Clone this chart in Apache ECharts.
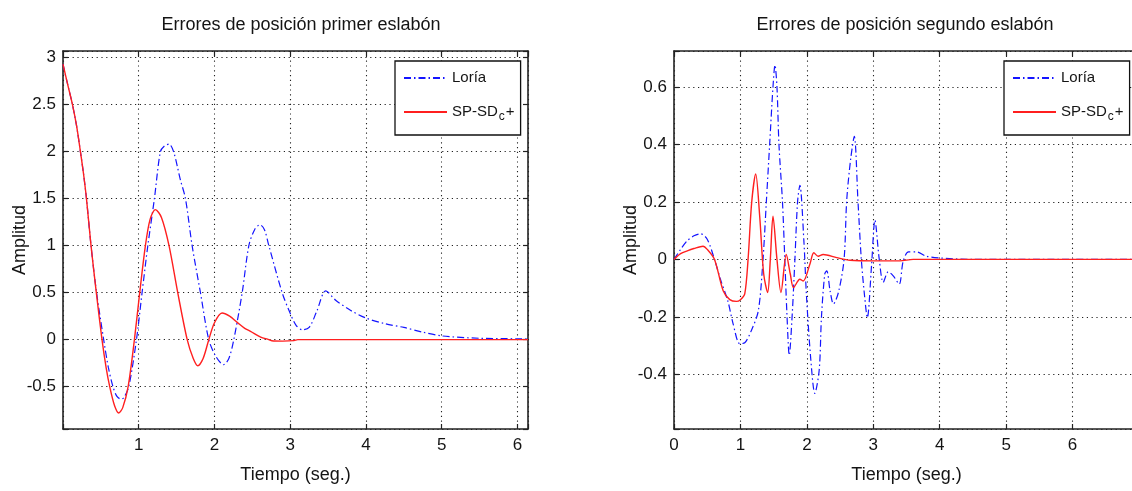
<!DOCTYPE html>
<html><head><meta charset="utf-8">
<script src="https://cdn.jsdelivr.net/npm/echarts@6/dist/echarts.min.js"></script>
<style>html,body{margin:0;padding:0;background:#fff}#c{width:1132px;height:491px}</style>
</head><body><div id="c"></div>
<script>
// ---------- text ----------
const seriesNames = ['Loría', 'SP-SD_c+'];
const titles = ['Errores de posición primer eslabón', 'Errores de posición segundo eslabón'];
const xName = 'Tiempo (seg.)';
const yName = 'Amplitud';

// ---------- axis ranges / ticks ----------
const xRange1 = [0, 6.14], xStep1 = 1;
const yRange1 = [-0.95, 3.07], yStep1 = 0.5;
const xRange2 = [0, 7], xStep2 = 1;
const yRange2 = [-0.59, 0.725], yStep2 = 0.2;

// ---------- data: first link ----------
const t1Loria = [0, 0.06, 0.125, 0.18, 0.23, 0.27, 0.31, 0.37, 0.44, 0.537, 0.60, 0.66, 0.71, 0.76, 0.80, 0.868, 0.97, 1.044, 1.12, 1.207, 1.286, 1.34, 1.40, 1.46, 1.55, 1.617, 1.705, 1.815, 1.925, 2.02, 2.12, 2.19, 2.255, 2.366, 2.454, 2.53, 2.60, 2.66, 2.718, 2.894, 3.0, 3.08, 3.16, 3.25, 3.35, 3.47, 3.6, 3.8, 4.0, 4.25, 4.5, 4.75, 5.0, 5.5, 6.0, 6.14];
const v1Loria = [2.93, 2.72, 2.5, 2.27, 2.0, 1.77, 1.5, 1.0, 0.52, 0.0, -0.3, -0.5, -0.6, -0.63, -0.62, -0.5, 0.0, 0.5, 1.0, 1.5, 2.0, 2.06, 2.08, 2.0, 1.70, 1.5, 1.0, 0.5, 0.0, -0.18, -0.266, -0.2, 0.0, 0.5, 1.0, 1.17, 1.223, 1.17, 1.0, 0.5, 0.28, 0.15, 0.106, 0.13, 0.3, 0.52, 0.42, 0.31, 0.23, 0.17, 0.13, 0.08, 0.04, 0.015, 0.01, 0.01];
const t1SPSD = [0, 0.06, 0.125, 0.18, 0.23, 0.27, 0.31, 0.37, 0.44, 0.515, 0.57, 0.617, 0.68, 0.736, 0.79, 0.86, 0.943, 1.013, 1.088, 1.15, 1.22, 1.30, 1.40, 1.515, 1.64, 1.72, 1.78, 1.85, 1.925, 2.0, 2.10, 2.20, 2.30, 2.40, 2.476, 2.61, 2.70, 2.78, 2.9, 3.05, 3.1, 3.5, 4, 5, 6.14];
const v1SPSD = [2.93, 2.72, 2.5, 2.27, 2.0, 1.77, 1.5, 1.0, 0.5, 0.0, -0.3, -0.5, -0.7, -0.78, -0.72, -0.5, 0.0, 0.5, 1.0, 1.28, 1.383, 1.30, 1.0, 0.5, 0.0, -0.2, -0.277, -0.2, 0.0, 0.18, 0.284, 0.25, 0.184, 0.12, 0.089, 0.028, 0.005, -0.014, -0.015, -0.01, 0, 0, 0, 0, 0];

// ---------- data: second link ----------
const t2Loria = [0, 0.1, 0.2, 0.3, 0.40, 0.5, 0.61, 0.70, 0.81, 0.89, 0.99, 1.065, 1.165, 1.27, 1.34, 1.39, 1.44, 1.49, 1.52, 1.55, 1.58, 1.633, 1.668, 1.70, 1.735, 1.78, 1.82, 1.86, 1.895, 1.955, 1.995, 2.06, 2.12, 2.186, 2.22, 2.27, 2.30, 2.35, 2.40, 2.475, 2.56, 2.6, 2.66, 2.714, 2.77, 2.82, 2.87, 2.91, 2.975, 3.025, 3.09, 3.15, 3.226, 3.30, 3.39, 3.45, 3.53, 3.65, 3.80, 4.0, 4.5, 5, 5.5, 6, 6.5, 7];
const v2Loria = [0, 0.035, 0.065, 0.082, 0.089, 0.07, 0.0, -0.07, -0.144, -0.224, -0.293, -0.29, -0.247, -0.178, 0.0, 0.2, 0.4, 0.6, 0.676, 0.6, 0.4, 0.2, 0.0, -0.19, -0.333, -0.19, 0.0, 0.2, 0.258, 0.065, -0.13, -0.35, -0.466, -0.385, -0.2, -0.05, -0.04, -0.11, -0.155, -0.115, 0.0, 0.206, 0.35, 0.428, 0.2, 0.0, -0.13, -0.203, -0.017, 0.136, 0.0, -0.08, -0.043, -0.057, -0.086, -0.006, 0.026, 0.026, 0.011, 0.005, 0.0, 0.0, 0.0, 0.0, 0.0, 0.0];
const t2SPSD = [0, 0.1, 0.2, 0.3, 0.437, 0.5, 0.61, 0.74, 0.84, 0.94, 1.0, 1.065, 1.115, 1.17, 1.23, 1.29, 1.35, 1.41, 1.45, 1.49, 1.55, 1.61, 1.69, 1.75, 1.80, 1.895, 1.945, 2.045, 2.105, 2.17, 2.245, 2.45, 2.65, 3.0, 3.4, 3.6, 4, 5, 6, 7];
const v2SPSD = [0, 0.02, 0.03, 0.038, 0.046, 0.035, 0.0, -0.109, -0.14, -0.146, -0.14, -0.12, 0.0, 0.2, 0.297, 0.15, -0.05, -0.115, 0.0, 0.15, 0.0, -0.115, 0.017, -0.05, -0.098, -0.069, -0.075, -0.017, 0.023, 0.011, 0.017, 0.006, -0.003, -0.005, -0.005, 0, 0, 0, 0, 0];

// ---------- styling ----------
const FONT = '"Liberation Sans", Arial, Helvetica, sans-serif';
const BLUE = '#1414ff', RED = '#ff1f1f';
const TXT = '#141414';
const zip = (t, v) => t.map((x, i) => [x, v[i]]);

function labelFmt(step, hideZero) {
  return function (v) {
    const k = v / step;
    if (Math.abs(k - Math.round(k)) > 1e-6) return '';
    if (hideZero && Math.abs(v) < 1e-9) return '';
    return String(Math.round(v * 100) / 100);
  };
}
const boxLine = { show: true, onZero: false, lineStyle: { color: '#222', width: 1.6 } };
const tickIn = { show: true, inside: true, length: 5, lineStyle: { color: '#222', width: 1.2 } };
const dotGrid = { show: true, lineStyle: { color: '#222', width: 1.1, type: [1.2, 3.6] } };

function mainX(grid, r, step, hideZero) {
  return {
    type: 'value', gridIndex: grid, position: 'bottom', min: r[0], max: r[1],
    minInterval: step, maxInterval: step, splitNumber: 7,
    axisLine: boxLine, axisTick: tickIn, splitLine: dotGrid,
    axisLabel: { margin: 8, fontFamily: FONT, fontSize: 17, color: TXT, formatter: labelFmt(step, hideZero) },
    name: xName, nameLocation: 'middle', nameGap: 37, nameMoveOverlap: false,
    nameTextStyle: { fontFamily: FONT, fontSize: 18, color: TXT }
  };
}
function sideX(grid, r, step) {
  return {
    type: 'value', gridIndex: grid, position: 'top', min: r[0], max: r[1],
    minInterval: step, maxInterval: step, splitNumber: 7,
    axisLine: boxLine, axisTick: tickIn, splitLine: { show: false }, axisLabel: { show: false }
  };
}
function mainY(grid, r, step, gap) {
  return {
    type: 'value', gridIndex: grid, position: 'left', min: r[0], max: r[1],
    minInterval: step, maxInterval: step, splitNumber: 8,
    axisLine: boxLine, axisTick: tickIn, splitLine: dotGrid,
    axisLabel: { margin: 7, fontFamily: FONT, fontSize: 17, color: TXT, formatter: labelFmt(step, false) },
    name: yName, nameLocation: 'middle', nameGap: gap, nameRotate: 90, nameMoveOverlap: false,
    nameTextStyle: { fontFamily: FONT, fontSize: 18, color: TXT }
  };
}
function sideY(grid, r, step) {
  return {
    type: 'value', gridIndex: grid, position: 'right', min: r[0], max: r[1],
    minInterval: step, maxInterval: step, splitNumber: 8,
    axisLine: boxLine, axisTick: tickIn, splitLine: { show: false }, axisLabel: { show: false }
  };
}
function legendAt(left) {
  return {
    data: seriesNames, orient: 'vertical', left: left, top: 61,
    itemWidth: 43, itemHeight: 14, itemGap: 8, padding: [4, 6, 10, 8],
    borderColor: '#111', borderWidth: 1.3, backgroundColor: '#fff', borderRadius: 0,
    selectedMode: false,
    itemStyle: { opacity: 0, borderWidth: 0 },
    formatter: n => n.replace('_c', '{sub|c}'),
    textStyle: {
      fontFamily: FONT, fontSize: 15, color: TXT, lineHeight: 26,
      rich: { sub: { fontFamily: FONT, fontSize: 12, color: TXT, lineHeight: 16, padding: [10, 1, 0, 1] } }
    }
  };
}
function line(name, data, xi, yi) {
  const isL = name === seriesNames[0];
  return {
    type: 'line', name: name, data: data, xAxisIndex: xi, yAxisIndex: yi,
    symbol: 'none', showSymbol: false, smooth: 0.3, animation: false,
    lineStyle: isL ? { color: BLUE, width: 1.2, type: [7, 3, 1.5, 3] } : { color: RED, width: 1.4 },
    itemStyle: { color: isL ? BLUE : RED },
    z: isL ? 3 : 4
  };
}

const chart = echarts.init(document.getElementById('c'), null, { renderer: 'canvas' });
chart.setOption({
  animation: false,
  backgroundColor: '#fff',
  title: [
    { text: titles[0], left: 296, top: 11, textAlign: 'center', textStyle: { fontFamily: FONT, fontSize: 18, fontWeight: 'normal', color: TXT } },
    { text: titles[1], left: 900, top: 11, textAlign: 'center', textStyle: { fontFamily: FONT, fontSize: 18, fontWeight: 'normal', color: TXT } }
  ],
  grid: [
    { left: 63, top: 51, width: 465, height: 378, outerBoundsMode: 'none' },
    { left: 674, top: 51, width: 465, height: 378, outerBoundsMode: 'none' }
  ],
  legend: [legendAt(395), legendAt(1004)],
  xAxis: [mainX(0, xRange1, xStep1, true), sideX(0, xRange1, xStep1), mainX(1, xRange2, xStep2, false), sideX(1, xRange2, xStep2)],
  yAxis: [mainY(0, yRange1, yStep1, 34), sideY(0, yRange1, yStep1), mainY(1, yRange2, yStep2, 34), sideY(1, yRange2, yStep2)],
  series: [
    line(seriesNames[0], zip(t1Loria, v1Loria), 0, 0),
    line(seriesNames[1], zip(t1SPSD, v1SPSD), 0, 0),
    line(seriesNames[0], zip(t2Loria, v2Loria), 2, 2),
    line(seriesNames[1], zip(t2SPSD, v2SPSD), 2, 2)
  ]
});
</script></body></html>
